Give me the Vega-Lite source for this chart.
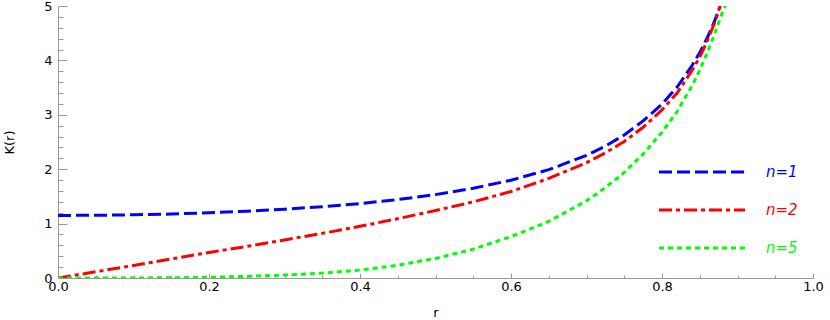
{
  "$schema": "https://vega.github.io/schema/vega-lite/v6.json",
  "width": 755,
  "height": 272,
  "autosize": "none",
  "padding": {"left": 58, "top": 6, "right": 17, "bottom": 42},
  "background": "white",
  "config": {"view": {"stroke": null}, "font": "DejaVu Sans"},
  "data": {"values": [
    {"r":0,"K":1.15,"n":"n=1"},{"r":0.05,"K":1.153,"n":"n=1"},{"r":0.1,"K":1.162,"n":"n=1"},{"r":0.15,"K":1.176,"n":"n=1"},{"r":0.2,"K":1.198,"n":"n=1"},{"r":0.25,"K":1.227,"n":"n=1"},{"r":0.3,"K":1.264,"n":"n=1"},{"r":0.35,"K":1.311,"n":"n=1"},{"r":0.4,"K":1.369,"n":"n=1"},{"r":0.45,"K":1.442,"n":"n=1"},{"r":0.5,"K":1.533,"n":"n=1"},{"r":0.55,"K":1.649,"n":"n=1"},{"r":0.6,"K":1.797,"n":"n=1"},{"r":0.65,"K":1.991,"n":"n=1"},{"r":0.7,"K":2.255,"n":"n=1"},{"r":0.725,"K":2.424,"n":"n=1"},{"r":0.75,"K":2.629,"n":"n=1"},{"r":0.775,"K":2.888,"n":"n=1"},{"r":0.8,"K":3.194,"n":"n=1"},{"r":0.82,"K":3.51,"n":"n=1"},{"r":0.84,"K":3.91,"n":"n=1"},{"r":0.85,"K":4.144,"n":"n=1"},{"r":0.86,"K":4.416,"n":"n=1"},{"r":0.87,"K":4.736,"n":"n=1"},{"r":0.877,"K":5.0,"n":"n=1"},
    {"r":0,"K":0,"n":"n=2"},{"r":0.05,"K":0.115,"n":"n=2"},{"r":0.1,"K":0.23,"n":"n=2"},{"r":0.15,"K":0.35,"n":"n=2"},{"r":0.2,"K":0.47,"n":"n=2"},{"r":0.25,"K":0.58,"n":"n=2"},{"r":0.3,"K":0.7,"n":"n=2"},{"r":0.35,"K":0.82,"n":"n=2"},{"r":0.4,"K":0.95,"n":"n=2"},{"r":0.45,"K":1.09,"n":"n=2"},{"r":0.5,"K":1.24,"n":"n=2"},{"r":0.55,"K":1.4,"n":"n=2"},{"r":0.6,"K":1.59,"n":"n=2"},{"r":0.65,"K":1.83,"n":"n=2"},{"r":0.7,"K":2.12,"n":"n=2"},{"r":0.725,"K":2.3,"n":"n=2"},{"r":0.75,"K":2.51,"n":"n=2"},{"r":0.775,"K":2.77,"n":"n=2"},{"r":0.8,"K":3.09,"n":"n=2"},{"r":0.82,"K":3.4,"n":"n=2"},{"r":0.84,"K":3.82,"n":"n=2"},{"r":0.85,"K":4.06,"n":"n=2"},{"r":0.86,"K":4.36,"n":"n=2"},{"r":0.87,"K":4.7,"n":"n=2"},{"r":0.877,"K":5.0,"n":"n=2"},
    {"r":0,"K":0,"n":"n=5"},{"r":0.05,"K":0,"n":"n=5"},{"r":0.1,"K":0.001,"n":"n=5"},{"r":0.15,"K":0.004,"n":"n=5"},{"r":0.2,"K":0.012,"n":"n=5"},{"r":0.25,"K":0.03,"n":"n=5"},{"r":0.3,"K":0.055,"n":"n=5"},{"r":0.35,"K":0.09,"n":"n=5"},{"r":0.4,"K":0.145,"n":"n=5"},{"r":0.45,"K":0.235,"n":"n=5"},{"r":0.5,"K":0.36,"n":"n=5"},{"r":0.55,"K":0.53,"n":"n=5"},{"r":0.6,"K":0.76,"n":"n=5"},{"r":0.65,"K":1.04,"n":"n=5"},{"r":0.7,"K":1.42,"n":"n=5"},{"r":0.725,"K":1.66,"n":"n=5"},{"r":0.75,"K":1.94,"n":"n=5"},{"r":0.775,"K":2.28,"n":"n=5"},{"r":0.8,"K":2.68,"n":"n=5"},{"r":0.82,"K":3.06,"n":"n=5"},{"r":0.84,"K":3.54,"n":"n=5"},{"r":0.85,"K":3.82,"n":"n=5"},{"r":0.86,"K":4.14,"n":"n=5"},{"r":0.87,"K":4.5,"n":"n=5"},{"r":0.88,"K":4.88,"n":"n=5"},{"r":0.884,"K":5.0,"n":"n=5"}
  ]},
  "mark": {"type": "line", "strokeWidth": 3, "clip": true},
  "encoding": {
    "x": {
      "field": "r", "type": "quantitative",
      "scale": {"domain": [0, 1], "nice": false, "zero": false},
      "axis": {
        "title": "r", "titleFont": "DejaVu Sans", "titleFontSize": 13, "titleFontWeight": "normal", "titleColor": "black", "titlePadding": 13,
        "values": [0,0.05,0.1,0.15,0.2,0.25,0.3,0.35,0.4,0.45,0.5,0.55,0.6,0.65,0.7,0.75,0.8,0.85,0.9,0.95,1],
        "format": ".1f",
        "labelExpr": "abs(datum.value*5 - round(datum.value*5)) < 0.001 ? datum.label : ''",
        "labelFontSize": 13, "labelColor": "black", "labelPadding": 7, "labelFlush": false,
        "tickSize": {"condition": {"test": "abs(datum.value*5 - round(datum.value*5)) < 0.001", "value": -5}, "value": -3},
        "tickColor": "#999999", "domainColor": "#999999", "grid": false
      }
    },
    "y": {
      "field": "K", "type": "quantitative",
      "scale": {"domain": [0, 5], "nice": false},
      "axis": {
        "title": "K(r)", "titleFont": "DejaVu Sans", "titleFontSize": 13, "titleFontWeight": "normal", "titleColor": "black", "titlePadding": 27,
        "values": [0,0.2,0.4,0.6,0.8,1,1.2,1.4,1.6,1.8,2,2.2,2.4,2.6,2.8,3,3.2,3.4,3.6,3.8,4,4.2,4.4,4.6,4.8,5],
        "labelExpr": "abs(datum.value - round(datum.value)) < 0.001 ? format(datum.value, 'd') : ''",
        "labelFontSize": 13, "labelColor": "black", "labelPadding": 15, "labelFlush": false,
        "tickSize": {"condition": {"test": "abs(datum.value - round(datum.value)) < 0.001", "value": -9}, "value": -5},
        "tickColor": "#999999", "domainColor": "#999999", "grid": false
      }
    },
    "color": {
      "field": "n", "type": "nominal",
      "scale": {"domain": ["n=1", "n=2", "n=5"], "range": ["#0000ff", "#ff0000", "#00ff00"]},
      "legend": {
        "title": null, "orient": "none", "legendX": 628, "legendY": 150,
        "symbolType": "M-3,0H3", "symbolSize": 822, "symbolStrokeWidth": 3, "symbolFillColor": "transparent",
        "labelFontSize": 15, "labelFontStyle": "italic", "labelOffset": 48, "rowPadding": 14,
        "encode": {"labels": {"update": {"fill": {"scale": "color", "field": "value"}}}}
      }
    },
    "strokeDash": {
      "field": "n", "type": "nominal",
      "scale": {"domain": ["n=1", "n=2", "n=5"], "range": [[13, 5], [13, 4, 4, 4], [5, 4]]},
      "legend": {
        "title": null, "orient": "none", "legendX": 628, "legendY": 150,
        "symbolType": "M-3,0H3", "symbolSize": 822, "symbolStrokeWidth": 3, "symbolFillColor": "transparent",
        "labelFontSize": 15, "labelFontStyle": "italic", "labelOffset": 48, "rowPadding": 14,
        "encode": {"labels": {"update": {"fill": {"scale": "color", "field": "value"}}}}
      }
    }
  }
}
